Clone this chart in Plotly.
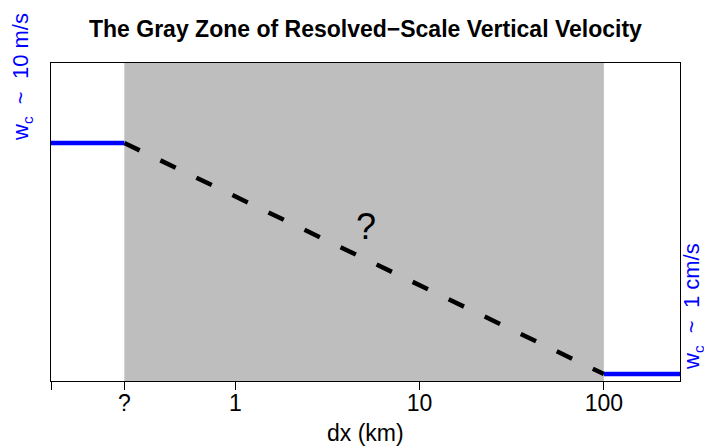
import numpy as np
import plotly.graph_objects as go

# Grid spacing (km) and characteristic vertical velocity (m/s)
dx_resolved = [0.1, 0.25]          # fine grids: convection resolved
w_resolved = [10, 10]
dx_param = [100, 259]              # coarse grids: parameterized
w_param = [0.01, 0.01]
dx_gray = [0.25, 100]              # the gray zone in between
w_gray = [10, 0.01]

tick_vals = [0.1, 0.25, 1, 10, 100]
tick_text = ["", "?", "1", "10", "100"]

BLUE = "#0000FF"
FONT = "Liberation Sans, Arial, Helvetica, sans-serif"
NB = "\u00a0"

fig = go.Figure()

# shaded gray zone spanning the full vertical extent
fig.add_trace(go.Scatter(
    x=[dx_gray[0], dx_gray[1], dx_gray[1], dx_gray[0], dx_gray[0]],
    y=[1e-4, 1e-4, 1e4, 1e4, 1e-4],
    fill="toself", fillcolor="#BEBEBE", line=dict(width=0),
    mode="lines", hoverinfo="skip", showlegend=False,
))

fig.add_trace(go.Scatter(
    x=dx_gray, y=w_gray, mode="lines",
    line=dict(color="black", width=4.5, dash="17px,23px"),
    showlegend=False,
))
fig.add_trace(go.Scatter(
    x=dx_resolved, y=w_resolved, mode="lines",
    line=dict(color=BLUE, width=4.5), showlegend=False,
))
fig.add_trace(go.Scatter(
    x=dx_param, y=w_param, mode="lines",
    line=dict(color=BLUE, width=4.5), showlegend=False,
))

fig.update_layout(
    width=704, height=446,
    margin=dict(l=51, r=24, t=63, b=65),
    paper_bgcolor="white", plot_bgcolor="white",
    font=dict(family=FONT, size=22, color="black"),
    xaxis=dict(
        type="log", range=[-1, np.log10(259)],
        tickvals=tick_vals, ticktext=tick_text,
        ticks="outside", ticklen=8, tickwidth=1.2, tickcolor="black",
        tickfont=dict(size=23), ticklabelstandoff=-7,
        showgrid=False, zeroline=False,
        showline=True, linecolor="black", linewidth=1.2, mirror=True,
    ),
    yaxis=dict(
        type="log", range=[-2.091, 2.039],
        showticklabels=False, ticks="",
        showgrid=False, zeroline=False,
        showline=True, linecolor="black", linewidth=1.2, mirror=True,
    ),
    annotations=[
        dict(text="<b>The Gray Zone of Resolved\u2212Scale Vertical Velocity</b>",
             xref="paper", yref="paper", x=0.5, y=(381 - 29) / 318,
             xanchor="center", yanchor="middle", showarrow=False,
             font=dict(size=23)),
        dict(text="dx (km)", xref="paper", yref="paper",
             x=0.5, y=(381 - 433) / 318, xanchor="center", yanchor="middle",
             showarrow=False, font=dict(size=23)),
        dict(text="?", xref="x", yref="y", x=0.712, y=-0.078,
             showarrow=False, font=dict(size=36)),
        dict(text=f"w<sub>c</sub>{NB}{NB}~{NB}{NB}10 m/s", xref="paper", yref="paper",
             x=(22 - 51) / 629, y=(381 - 77) / 318, textangle=-90,
             xanchor="center", yanchor="middle", showarrow=False,
             font=dict(size=22, color=BLUE)),
        dict(text=f"w<sub>c</sub>{NB}{NB}~{NB}{NB}1 cm/s", xref="paper", yref="paper",
             x=(693 - 51) / 629, y=(381 - 307) / 318, textangle=-90,
             xanchor="center", yanchor="middle", showarrow=False,
             font=dict(size=22, color=BLUE)),
    ],
)

fig.write_html("out.html")
